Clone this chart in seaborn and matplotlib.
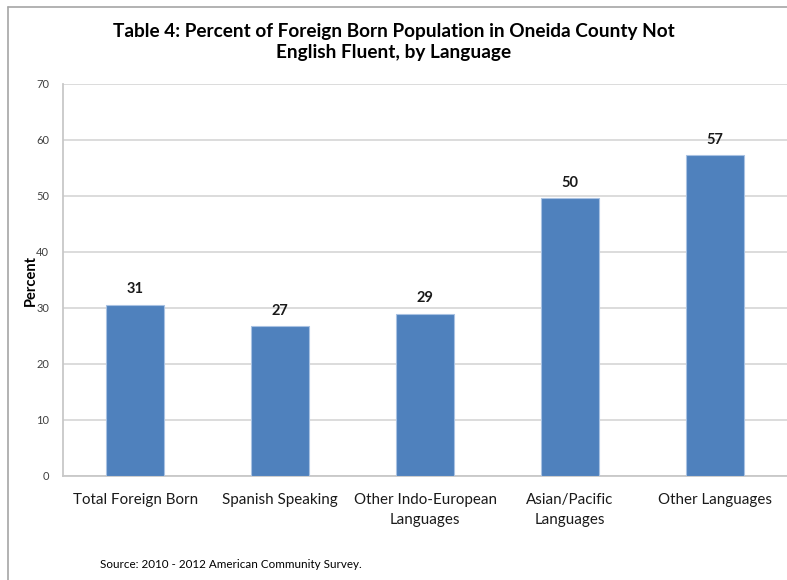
import matplotlib
matplotlib.use("Agg")
import matplotlib.pyplot as plt
from matplotlib.lines import Line2D
import seaborn as sns
import pandas as pd

categories = ["Total Foreign Born", "Spanish Speaking", "Other Indo-European\nLanguages",
              "Asian/Pacific\nLanguages", "Other Languages"]
percent = [30.6, 26.7, 29.0, 49.6, 57.3]
y_ticks = [0, 10, 20, 30, 40, 50, 60, 70]

title = "Table 4: Percent of Foreign Born Population in Oneida County Not\nEnglish Fluent, by Language"
source = "Source: 2010 - 2012 American Community Survey."

sns.set_theme(style="white")
plt.rcParams["font.family"] = ["Lato", "DejaVu Sans"]

df = pd.DataFrame({"category": categories, "percent": percent})

fig = plt.figure(figsize=(7.87, 5.80), dpi=100)
ax = fig.add_axes([63 / 787, 1 - 476 / 580, 1 - 63 / 787, (476 - 84) / 580])

sns.barplot(data=df, x="category", y="percent", color="#4f81bd", width=0.4,
            edgecolor="#a9c2e2", linewidth=0.8, saturation=1, ax=ax, zorder=3)

ax.set_ylim(0, 70)
ax.set_yticks(y_ticks)
ax.set_yticklabels([str(t) for t in y_ticks], fontsize=8, color="#404040")
ax.grid(axis="y", color="#d9d9d9", linewidth=1.3, zorder=0)
ax.set_axisbelow(True)

for s in ["top", "right"]:
    ax.spines[s].set_visible(False)
for s in ["left", "bottom"]:
    ax.spines[s].set_color("#c8c8c8")
    ax.spines[s].set_linewidth(1.3)

ax.tick_params(axis="both", length=0)
ax.tick_params(axis="y", pad=10)
ax.tick_params(axis="x", pad=12, labelsize=10.9, labelcolor="#1a1a1a")
for lbl in ax.get_xticklabels():
    lbl.set_linespacing(1.55)
ax.set_xlabel("")
ax.set_ylabel("Percent", fontsize=10.5, fontweight="bold", color="#000000")
ax.yaxis.set_label_coords(-25 / 724, 0.5)

for i, v in enumerate(percent):
    ax.annotate(f"{v:.0f}", xy=(i, v), xytext=(0, 6), textcoords="offset points",
                ha="center", va="bottom", fontsize=10.5, fontweight="bold", color="#1a1a1a")

fig.text(0.5, 1 - 42 / 580, title, ha="center", va="center", fontsize=13.7,
         fontweight="bold", color="#000000", linespacing=1.35)
fig.text(100 / 787, 1 - 564 / 580, source, ha="left", va="center", fontsize=8.4,
         color="#000000")

# outer chart frame (top and left edges)
fig.add_artist(Line2D([8 / 787, 1], [1 - 7 / 580, 1 - 7 / 580], transform=fig.transFigure,
                      color="#a6a6a6", linewidth=1.2))
fig.add_artist(Line2D([8 / 787, 8 / 787], [0, 1 - 7 / 580], transform=fig.transFigure,
                      color="#a6a6a6", linewidth=1.2))

fig.savefig("out.png", dpi=100, facecolor="white")
